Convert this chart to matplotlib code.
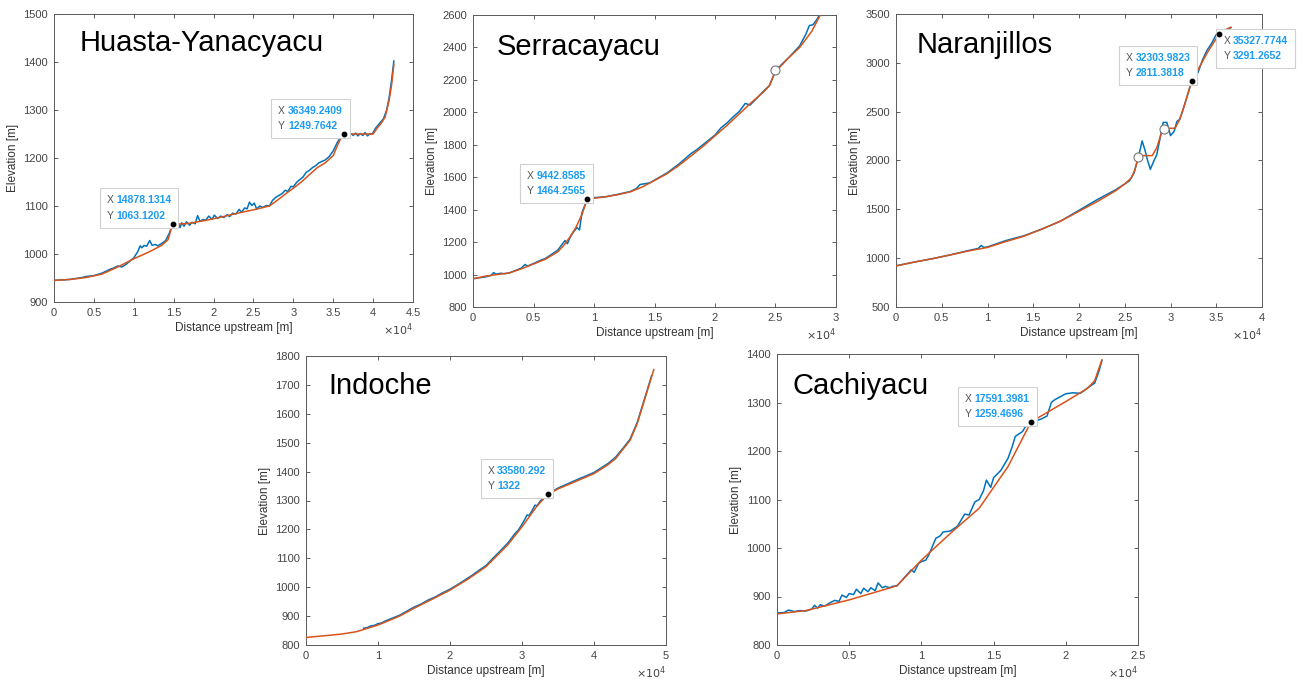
import matplotlib.pyplot as plt
from matplotlib.offsetbox import TextArea, HPacker, VPacker, AnnotationBbox

plt.rcParams['font.family'] = ['Liberation Sans', 'DejaVu Sans']

BLUE = '#0072BD'
RED = '#D95319'
TIPBLUE = '#1a9cf0'
AXC = '#5a5a5a'

# ---- Huasta-Yanacyacu ----
hy_bx = [0, 2000, 3500, 4000, 5000, 6000, 7000, 7500, 8000, 8500, 9000, 9500, 10000, 10500, 10800, 11000,
         11300, 11600, 12000, 12300, 12700, 13000, 13500, 14000, 14500, 14878, 15000, 15200, 15500, 15800,
         16000, 16300, 16600, 17000, 17300, 17700, 18000, 18300, 18700, 19000, 19400, 19800, 20100, 20500,
         20900, 21300, 21700, 22000, 22400, 22800, 23200, 23500, 23900, 24200, 24500, 24800, 25100, 25400,
         25800, 26200, 26600, 27000, 27400, 27800, 28200, 28600, 29000, 29300, 29700, 30000, 30400, 30800,
         31200, 31600, 32000, 32400, 32800, 33200, 33600, 34000, 34500, 35000, 35500, 36000, 36349, 36600,
         36900, 37200, 37500, 37800, 38100, 38400, 38700, 39000, 39300, 39600, 39900, 40300, 40800, 41300,
         41700, 42000, 42300, 42600]
hy_by = [945, 947, 951, 953, 955, 960, 968, 971, 975, 973, 978, 985, 992, 1005, 1017, 1013,
         1018, 1016, 1028, 1018, 1020, 1017, 1022, 1028, 1045, 1063, 1073, 1062, 1068, 1055,
         1065, 1058, 1067, 1060, 1066, 1063, 1080, 1068, 1072, 1070, 1079, 1072, 1081, 1074,
         1079, 1076, 1082, 1078, 1085, 1083, 1093, 1087, 1096, 1094, 1108, 1101, 1106, 1094,
         1100, 1097, 1101, 1100, 1112, 1118, 1122, 1126, 1133, 1130, 1141, 1140, 1149, 1155,
         1160, 1170, 1174, 1180, 1184, 1190, 1193, 1196, 1203, 1215, 1232, 1245, 1250, 1252,
         1246, 1251, 1247, 1252, 1246, 1251, 1247, 1253, 1246, 1251, 1250, 1262, 1272, 1282,
         1300, 1325, 1360, 1402]
hy_rx = [0, 2000, 4000, 6000, 8000, 10000, 12000, 13500, 14300, 14878, 15500, 17000, 19000, 21000, 23000,
         25000, 27000, 28000, 29000, 30000, 31000, 32000, 33000, 34000, 35000, 35500, 36000, 36349, 38000,
         40000, 40500, 41000, 41500, 42000, 42300, 42600]
hy_ry = [945, 947, 951, 958, 973, 990, 1005, 1018, 1030, 1063, 1062, 1064, 1070, 1077, 1085,
         1092, 1100, 1112, 1125, 1137, 1150, 1165, 1180, 1190, 1205, 1225, 1243, 1250, 1250,
         1250, 1262, 1272, 1285, 1320, 1350, 1395]

# ---- Serracayacu ----
se_bx = [0, 1000, 1500, 1700, 1900, 2300, 2600, 3000, 3500, 4000, 4300, 4500, 5000, 5500, 6000, 6500, 7000,
         7300, 7600, 7800, 8000, 8300, 8600, 8800, 9000, 9200, 9443, 9700, 10000, 11000, 12000, 13000, 13500,
         13800, 14200, 14600, 15000, 16000, 17000, 18000, 18500, 19000, 20000, 20500, 21000, 21500, 22000,
         22500, 22900, 23500, 24000, 24500, 25000, 25500, 26000, 26500, 27000, 27500, 27800, 28100, 28400, 28700]
se_by = [975, 985, 995, 1012, 1003, 1008, 1005, 1010, 1025, 1040, 1062, 1052, 1068, 1085, 1100, 1125, 1150,
         1180, 1210, 1190, 1225, 1262, 1290, 1275, 1380, 1420, 1464, 1472, 1474, 1480, 1495, 1512, 1530,
         1555, 1560, 1565, 1582, 1625, 1680, 1745, 1770, 1800, 1860, 1905, 1935, 1972, 2005,
         2055, 2045, 2090, 2130, 2165, 2255, 2295, 2330, 2370, 2410, 2480, 2535, 2540, 2570, 2610]
se_rx = [0, 1000, 2000, 3000, 4000, 5000, 6000, 7000, 7500, 8000, 8500, 9000, 9443, 10000, 11000, 12000, 13000,
         14000, 15000, 16000, 17000, 18000, 19000, 20000, 21000, 22000, 23000, 24000, 24500, 25000, 25500,
         26000, 27000, 28000, 28700]
se_ry = [973, 990, 1000, 1010, 1035, 1065, 1095, 1140, 1180, 1230, 1290, 1370, 1464, 1470, 1480, 1493, 1510,
         1540, 1580, 1620, 1672, 1730, 1790, 1855, 1920, 1990, 2060, 2125, 2165, 2255, 2290,
         2330, 2400, 2500, 2600]

# ---- Naranjillos ----
na_bx = [0, 2000, 4000, 6000, 8000, 9000, 9300, 9600, 10000, 12000, 14000, 16000, 18000, 20000, 22000, 24000,
         25000, 25500, 26000, 26500, 26900, 27200, 27500, 27800, 28200, 28500, 28800, 29200, 29600, 30000,
         30400, 30700, 31000, 31300, 31800, 32304, 32500, 33000, 33500, 34000, 34500, 35000, 35328, 35700,
         36200, 36600]
na_by = [922, 960, 995, 1035, 1080, 1100, 1130, 1110, 1115, 1180, 1230, 1300, 1380, 1490, 1600, 1700,
         1760, 1790, 1870, 2040, 2200, 2110, 2000, 1910, 2000, 2060, 2200, 2390, 2390, 2255,
         2300, 2400, 2420, 2500, 2650, 2811, 2830, 2900, 3030, 3130, 3200, 3290, 3291, 3310,
         3340, 3360]
na_rx = [0, 2000, 4000, 6000, 8000, 10000, 12000, 14000, 16000, 18000, 20000, 22000, 24000, 25000, 25700,
         26100, 26500, 27000, 28000, 28500, 29000, 29300, 30500, 31000, 31500, 32304, 33000, 34000, 35000,
         35328, 36000, 36600]
na_ry = [920, 960, 995, 1035, 1075, 1110, 1170, 1225, 1300, 1380, 1480, 1580, 1690, 1760, 1820,
         1900, 2040, 2050, 2050, 2130, 2280, 2330, 2330, 2420, 2560, 2811, 2930, 3100, 3250,
         3291, 3340, 3365]

# ---- Indoche ----
in_bx = [8000, 8500, 9000, 9500, 10000, 10500, 11000, 12000, 13000, 14000, 15000, 16000, 17000, 18000, 19000,
         20000, 21000, 22000, 23000, 24000, 25000, 26000, 27000, 28000, 28500, 29000, 29500, 30000, 30400,
         30700, 31000, 31400, 31800, 32100, 32500, 33000, 33580, 34000, 35000, 36000, 37000, 38000, 39000,
         40000, 41000, 42000, 43000, 44000, 45000, 46000, 47000, 48000]
in_by = [858, 860, 866, 868, 874, 876, 883, 893, 903, 917, 931, 942, 956, 967, 981,
         993, 1008, 1024, 1040, 1058, 1075, 1101, 1126, 1152, 1168, 1185, 1198, 1218, 1235,
         1250, 1248, 1265, 1284, 1282, 1297, 1310, 1322, 1328, 1343, 1354, 1365, 1376, 1386,
         1397, 1413, 1429, 1450, 1480, 1512, 1570, 1650, 1732]
in_rx = [0, 3000, 5000, 7000, 10000, 13000, 15000, 17500, 20000, 22500, 25000, 28000, 30000, 32000, 33580,
         35000, 37000, 40000, 42000, 43000, 45000, 46000, 47000, 48300]
in_ry = [826, 833, 838, 846, 869, 900, 927, 958, 990, 1028, 1071, 1146, 1209, 1278, 1322,
         1340, 1361, 1393, 1425, 1445, 1508, 1566, 1647, 1753]

# ---- Cachiyacu ----
ca_bx = [0, 500, 800, 1200, 1600, 2000, 2400, 2600, 2800, 3000, 3300, 3600, 4000, 4300, 4500, 4800, 5000,
         5300, 5500, 5800, 6000, 6300, 6500, 6800, 7000, 7300, 7500, 7800, 8000, 8300, 8500, 9000, 9300,
         9500, 9800, 10000, 10300, 10500, 11000, 11300, 11500, 12000, 12500, 13000, 13300, 13700, 14000,
         14300, 14500, 14800, 15000, 15500, 16000, 16300, 16500, 17000, 17300, 17591, 17800, 18000, 18300,
         18700, 19000, 19200, 19500, 20000, 20500, 21000, 21300, 21500, 21800, 22000, 22300, 22500]
ca_by = [866, 867, 872, 869, 871, 870, 874, 882, 876, 883, 880, 886, 892, 890, 903, 898, 906,
         904, 915, 906, 917, 910, 918, 912, 928, 918, 921, 918, 921, 922, 928, 945, 955,
         950, 968, 972, 975, 985, 1020, 1025, 1033, 1035, 1045, 1070, 1068, 1095, 1100,
         1118, 1140, 1125, 1145, 1160, 1185, 1210, 1230, 1240, 1255, 1260, 1268, 1263, 1266,
         1272, 1300, 1305, 1310, 1318, 1320, 1319, 1325, 1330, 1336, 1340, 1365, 1386]
ca_rx = [0, 2000, 5000, 8300, 10000, 12000, 14000, 16000, 17591, 20000, 21500, 22000, 22500]
ca_ry = [864, 871, 893, 922, 975, 1030, 1082, 1168, 1260, 1302, 1329, 1345, 1388]

panels = [
    dict(name='Huasta-Yanacyacu', bx=hy_bx, by=hy_by, rx=hy_rx, ry=hy_ry,
         xlim=(0, 45000), ylim=(900, 1500), xt=[0, 0.5, 1, 1.5, 2, 2.5, 3, 3.5, 4, 4.5],
         yt=[900, 1000, 1100, 1200, 1300, 1400, 1500],
         tips=[(14878.1314, 1063.1202, '14878.1314', '1063.1202', 'ul'),
               (36349.2409, 1249.7642, '36349.2409', '1249.7642', 'ul')],
         open_pts=[], px=(54, 413, 14, 302), tpos=(0.072, 0.90)),
    dict(name='Serracayacu', bx=se_bx, by=se_by, rx=se_rx, ry=se_ry,
         xlim=(0, 30000), ylim=(800, 2600), xt=[0, 0.5, 1, 1.5, 2, 2.5, 3],
         yt=[800, 1000, 1200, 1400, 1600, 1800, 2000, 2200, 2400, 2600],
         tips=[(9442.8585, 1464.2565, '9442.8585', '1464.2565', 'ul')],
         open_pts=[(25000, 2258)], px=(473, 836, 15, 307), tpos=(0.066, 0.89)),
    dict(name='Naranjillos', bx=na_bx, by=na_by, rx=na_rx, ry=na_ry,
         xlim=(0, 40000), ylim=(500, 3500), xt=[0, 0.5, 1, 1.5, 2, 2.5, 3, 3.5, 4],
         yt=[500, 1000, 1500, 2000, 2500, 3000, 3500],
         tips=[(32303.9823, 2811.3818, '32303.9823', '2811.3818', 'ul'),
               (35327.7744, 3291.2652, '35327.7744', '3291.2652', 'lr')],
         open_pts=[(26500, 2040), (29300, 2320)], px=(896, 1262, 14, 307), tpos=(0.055, 0.894)),
    dict(name='Indoche', bx=in_bx, by=in_by, rx=in_rx, ry=in_ry,
         xlim=(0, 50000), ylim=(800, 1800), xt=[0, 1, 2, 3, 4, 5],
         yt=[800, 900, 1000, 1100, 1200, 1300, 1400, 1500, 1600, 1700, 1800],
         tips=[(33580.292, 1322, '33580.292', '1322', 'ul')],
         open_pts=[], px=(306, 666, 356, 645), tpos=(0.061, 0.896)),
    dict(name='Cachiyacu', bx=ca_bx, by=ca_by, rx=ca_rx, ry=ca_ry,
         xlim=(0, 25000), ylim=(800, 1400), xt=[0, 0.5, 1, 1.5, 2, 2.5],
         yt=[800, 900, 1000, 1100, 1200, 1300, 1400],
         tips=[(17591.3981, 1259.4696, '17591.3981', '1259.4696', 'ul')],
         open_pts=[], px=(777, 1138, 354, 645), tpos=(0.042, 0.89)),
]

W, H = 1309, 688
fig = plt.figure(figsize=(W / 100, H / 100), dpi=100)


def datatip(ax, x, y, xs, ys, where):
    rows = []
    for lab, val in (('X', xs), ('Y', ys)):
        rows.append(HPacker(children=[TextArea(lab, textprops=dict(color='#555555', fontsize=7.5)),
                                      TextArea(val, textprops=dict(color=TIPBLUE, fontsize=7.5,
                                                                   fontweight='bold'))],
                            align='baseline', pad=0, sep=2))
    box = VPacker(children=rows, align='left', pad=0, sep=4)
    if where == 'ul':
        off, al = (-1, 2), (1, 0)
    else:
        off, al = (3, -1), (0, 1)
    ab = AnnotationBbox(box, (x, y), xybox=off, xycoords='data', boxcoords='offset points',
                        box_alignment=al, frameon=True, pad=0.5, annotation_clip=False,
                        bboxprops=dict(boxstyle='square,pad=0.5', fc='white', ec='#d0d0d0', lw=0.8))
    ab.set_zorder(6)
    ax.add_artist(ab)
    ax.plot([x], [y], 'o', ms=3.2, color='black', zorder=7, clip_on=False)


for p in panels:
    l, r, t, b = p['px']
    ax = fig.add_axes([l / W, (H - b) / H, (r - l) / W, (b - t) / H])
    ax.plot(p['bx'], p['by'], color=BLUE, lw=1.1, zorder=3)
    ax.plot(p['rx'], p['ry'], color=RED, lw=1.1, zorder=4)
    for ox, oy in p['open_pts']:
        ax.plot([ox], [oy], 'o', ms=6.5, mfc='white', mec='#777777', mew=0.8, zorder=5)
    ax.set_xlim(*p['xlim'])
    ax.set_ylim(*p['ylim'])
    ax.set_xticks([v * 10000 for v in p['xt']])
    ax.set_xticklabels([('%g' % v) for v in p['xt']])
    ax.set_yticks(p['yt'])
    ax.set_yticklabels([str(v) for v in p['yt']])
    ax.tick_params(direction='in', length=3, width=0.6, top=True, right=True,
                   labelsize=8, colors='#444444', pad=4.5)
    for s in ax.spines.values():
        s.set_color(AXC)
        s.set_linewidth(0.7)
    ax.set_xlabel('Distance upstream [m]', fontsize=8.5, color='#333333', labelpad=3)
    ax.set_ylabel('Elevation [m]', fontsize=8.5, color='#333333', labelpad=3)
    ax.text(1.0, -0.095, r'$\times10^{4}$', transform=ax.transAxes, ha='right', va='center',
            fontsize=8, color='#444444')
    ax.text(p['tpos'][0], p['tpos'][1], p['name'], transform=ax.transAxes, fontsize=21,
            ha='left', va='center', color='black', zorder=8)
    for x, y, xs, ys, where in p['tips']:
        datatip(ax, x, y, xs, ys, where)

fig.savefig('out.png', dpi=100)
